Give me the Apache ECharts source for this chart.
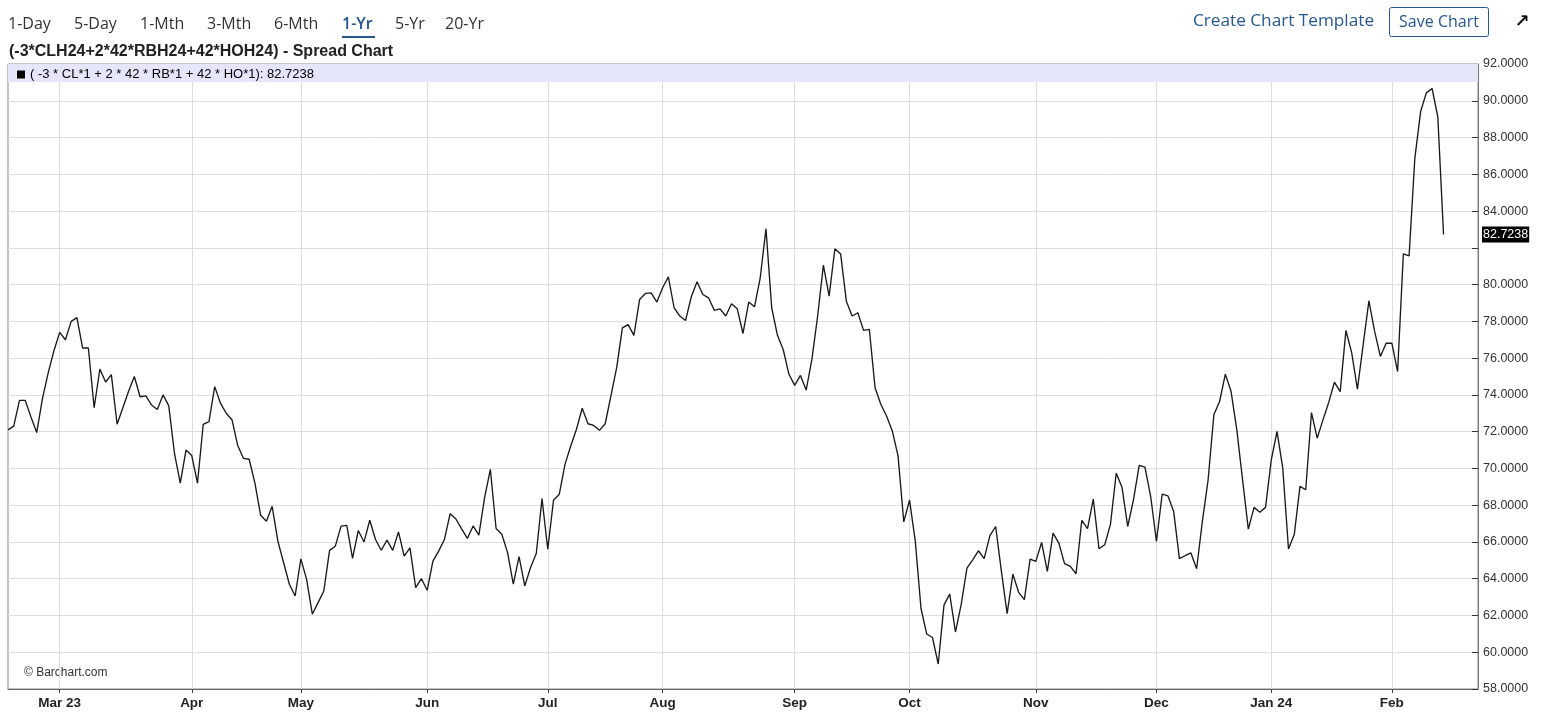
<!DOCTYPE html>
<html><head><meta charset="utf-8">
<script src="https://cdn.jsdelivr.net/npm/echarts@6/dist/echarts.min.js"></script>
<style>html,body{margin:0;padding:0;background:#fff}#c{width:1565px;height:727px}</style>
</head><body><div id="c"></div>
<script>
// ---- data ----
const monthLabels = ["", "Mar 23", "Apr", "May", "Jun", "Jul", "Aug", "Sep", "Oct", "Nov", "Dec", "Jan 24", "Feb"];
const monthTradingDays = [9, 23, 19, 22, 21, 20, 23, 20, 22, 21, 20, 21, 10];
const spreadValues = [
 72.1, 72.3, 73.7, 73.7, 72.8, 71.95, 73.8, 75.2, 76.4,
 77.4, 77.0, 78.0, 78.2, 76.55, 76.55, 73.3, 75.4, 74.7, 75.1, 72.4, 73.3, 74.2, 75.0, 73.9, 73.95, 73.45, 73.2, 74.0, 73.4, 70.8, 69.2, 71.0,
 70.7, 69.2, 72.4, 72.55, 74.45, 73.55, 73.0, 72.65, 71.25, 70.55, 70.5, 69.2, 67.45, 67.13, 67.94, 66.04, 64.87, 63.7, 63.06,
 65.08, 63.96, 62.07, 62.7, 63.33, 65.54, 65.77, 66.86, 66.9, 65.1, 66.62, 66.0, 67.18, 66.13, 65.55, 66.1, 65.54, 66.55, 65.23, 65.68, 63.51, 64.0,
 63.37, 64.96, 65.5, 66.13, 67.54, 67.25, 66.71, 66.19, 66.87, 66.37, 68.41, 69.95, 66.73, 66.42, 65.42, 63.7, 65.2, 63.61, 64.61, 65.37, 68.36,
 65.6, 68.27, 68.59, 70.22, 71.22, 72.13, 73.27, 72.43, 72.34, 72.07, 72.43, 73.94, 75.48, 77.65, 77.82, 77.24, 79.19, 79.52, 79.55, 79.05,
 79.83, 80.42, 78.74, 78.29, 78.05, 79.34, 80.15, 79.46, 79.28, 78.6, 78.68, 78.29, 78.96, 78.68, 77.34, 79.05, 78.79, 80.37, 83.03, 78.74, 77.24, 76.47, 75.12,
 74.52, 75.06, 74.26, 75.93, 78.29, 81.06, 79.37, 81.95, 81.67, 79.1, 78.29, 78.47, 77.51, 77.56, 74.39, 73.49, 72.85, 72.04, 70.68, 67.09,
 68.27, 66.06, 62.38, 60.99, 60.8, 59.36, 62.56, 63.16, 61.1, 62.6, 64.58, 65.03, 65.52, 65.09, 66.34, 66.84, 64.4, 62.1, 64.25, 63.26, 62.86, 65.07,
 64.94, 65.97, 64.4, 66.48, 65.94, 64.82, 64.67, 64.27, 67.17, 66.72, 68.33, 65.63, 65.85, 66.97, 69.74, 68.98, 66.84, 68.29, 70.16, 70.07, 68.47,
 66.03, 68.6, 68.51, 67.66, 65.09, 65.25, 65.4, 64.54, 67.12, 69.38, 72.92, 73.64, 75.13, 74.18, 72.1, 69.38, 66.7, 67.88, 67.61, 67.88,
 70.47, 72.01, 70.02, 65.62, 66.4, 69.02, 68.84, 73.04, 71.65, 72.64, 73.59, 74.69, 74.18, 77.5, 76.3, 74.31, 76.72, 79.11, 77.45, 76.09, 76.81,
 76.81, 75.27, 81.67, 81.56, 86.87, 89.4, 90.43, 90.67, 89.13, 82.7238
];
const lastValue = 82.7238;
const yMin = 58, yMax = 92, yStep = 2;
const rightPadDays = 6;
const legendLabel = "( -3 * CL*1 + 2 * 42 * RB*1 + 42 * HO*1): " + lastValue.toFixed(4);
const titleText = "(-3*CLH24+2*42*RBH24+42*HOH24) - Spread Chart";
const rangeButtons = ["1-Day", "5-Day", "1-Mth", "3-Mth", "6-Mth", "1-Yr", "5-Yr", "20-Yr"];

// ---- build categories ----
const categories = [];
const monthStart = {};
monthTradingDays.forEach((n, m) => {
  for (let d = 0; d < n; d++) {
    if (d === 0 && monthLabels[m]) monthStart[categories.length] = monthLabels[m];
    categories.push(m + "-" + d);
  }
});
for (let p = 0; p < rightPadDays; p++) categories.push("pad-" + p);
const isStart = (i) => monthStart[i] !== undefined;

const chart = echarts.init(document.getElementById('c'), null, {renderer: 'canvas'});
const blue = '#26578f';
const btnX = [8, 74, 140, 207, 274, 342, 395, 445];
const graphics = rangeButtons.map((t, i) => ({
  type: 'text', x: btnX[i], y: 24,
  style: {text: t, font: (t === '1-Yr' ? '600 ' : '') + '16px "Open Sans"', fill: t === '1-Yr' ? blue : '#333', verticalAlign: 'middle'}
}));
graphics.push(
  {type: 'rect', shape: {x: 342, y: 36, width: 33, height: 2}, style: {fill: blue}},
  {type: 'text', x: 1193, y: 21, style: {text: 'Create Chart Template', font: '17.2px "Open Sans"', fill: blue, verticalAlign: 'middle'}},
  {type: 'rect', shape: {x: 1389.5, y: 7.5, width: 99, height: 29, r: 2}, style: {fill: '#fff', stroke: blue, lineWidth: 1}},
  {type: 'text', x: 1439, y: 22, style: {text: 'Save Chart', font: '16px "Open Sans"', fill: blue, align: 'center', verticalAlign: 'middle'}},
  {type: 'text', x: 1522, y: 22, style: {text: '\u2197', font: 'bold 18px "DejaVu Sans"', fill: '#111', align: 'center', verticalAlign: 'middle'}},
  {type: 'text', x: 24, y: 673, style: {text: '\u00A9 Barchart.com', font: '12px "Liberation Sans Narrow", "Liberation Sans", Arial', fill: '#333', verticalAlign: 'middle'}}
);

chart.setOption({
  animation: false,
  backgroundColor: '#fff',
  title: {text: titleText, left: 4, top: 39, textStyle: {fontFamily: '"Liberation Sans", Arial', fontWeight: 'bold', fontSize: 16, color: '#222'}},
  legend: {
    left: 12, top: 63, itemWidth: 8, itemHeight: 8, itemGap: 5,
    icon: 'rect', selectedMode: false,
    formatter: () => legendLabel,
    textStyle: {fontFamily: '"Liberation Sans", Arial', fontSize: 13, color: '#000', padding: [0, 0, 0, 0]}
  },
  grid: {left: 8, right: 87, top: 64, bottom: 38, show: true, borderColor: '#888', borderWidth: 1, backgroundColor: 'transparent'},
  xAxis: {
    type: 'category', data: categories, boundaryGap: false,
    axisLine: {show: true, lineStyle: {color: '#666', width: 1}},
    axisTick: {show: true, interval: (i) => isStart(i), length: 4, lineStyle: {color: '#444'}},
    axisLabel: {
      interval: (i) => isStart(i), formatter: (v, i) => monthStart[i] || '',
      fontFamily: '"Liberation Sans", Arial', fontWeight: 'bold', fontSize: 13.5, color: '#222', margin: 7
    },
    splitLine: {show: true, interval: (i) => isStart(i), lineStyle: {color: '#dedede', width: 1}}
  },
  yAxis: {
    type: 'value', position: 'right', min: yMin, max: yMax, interval: yStep,
    axisLine: {show: true, lineStyle: {color: '#777', width: 1}},
    axisTick: {show: true, inside: true, length: 6, lineStyle: {color: '#333'}},
    axisLabel: {
      formatter: (v) => Math.abs(v - lastValue) < 1 ? '' : v.toFixed(4),
      fontFamily: '"Liberation Sans", Arial', fontSize: 12.5, color: '#333', margin: 5
    },
    splitLine: {show: true, lineStyle: {color: '#dedede', width: 1}}
  },
  series: [{
    name: 'spread', type: 'line', data: spreadValues,
    symbol: 'none', color: '#000',
    lineStyle: {color: '#1a1a1a', width: 1.35},
    emphasis: {disabled: true}, silent: true,
    markArea: {silent: true, itemStyle: {color: '#e6e6fa', opacity: 1}, data: [[{yAxis: yMax - 0.98}, {yAxis: yMax}]]},
    markLine: {
      silent: true, symbol: 'none', animation: false,
      lineStyle: {color: 'rgba(0,0,0,0)', width: 0},
      label: {show: true, position: 'end', distance: 4, formatter: () => lastValue.toFixed(4),
        backgroundColor: '#000', color: '#fff', padding: [2, 1, 1, 1], fontFamily: '"Liberation Sans", Arial', fontSize: 12.5},
      data: [{yAxis: lastValue}]
    }
  }],
  graphic: graphics
});
</script></body></html>
